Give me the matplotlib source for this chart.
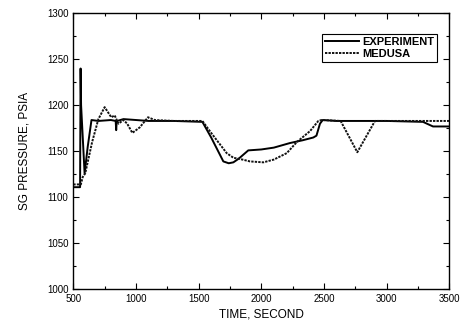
import numpy as np
import matplotlib.pyplot as plt
from matplotlib.ticker import MultipleLocator

plt.rcParams['font.family'] = ['Liberation Sans', 'DejaVu Sans']

# EXPERIMENT (solid)
exp_t = [500, 554, 556, 558, 562, 590, 615, 645, 700, 800, 838, 842, 846, 850,
         900, 1000, 1100, 1300, 1530, 1600, 1697, 1740, 1777, 1820, 1896, 2000,
         2100, 2229, 2330, 2415, 2440, 2468, 2490, 2600, 2800, 3000, 3290, 3370, 3500]
exp_p = [1111, 1111, 1180, 1240, 1200, 1126, 1155, 1184, 1183, 1184, 1183, 1173,
         1182, 1183, 1185, 1184, 1183, 1183, 1182, 1165, 1139, 1137, 1138, 1142,
         1151, 1152, 1154, 1159, 1162, 1165, 1167, 1180, 1184, 1183, 1183, 1183,
         1182, 1177, 1177]

# MEDUSA (dashed)
med_t = [500, 560, 575, 595, 650, 700, 750, 803, 830, 860, 880, 900, 930, 971,
         1030, 1096, 1150, 1300, 1530, 1600, 1724, 1777, 1850, 1910, 2016, 2100,
         2203, 2283, 2389, 2455, 2480, 2633, 2766, 2907, 3000, 3200, 3500]
med_p = [1114, 1114, 1122, 1126, 1160, 1185, 1198, 1187, 1189, 1180, 1182, 1184,
         1180, 1170, 1176, 1187, 1184, 1183, 1183, 1170, 1148, 1143, 1141, 1139,
         1138, 1141, 1148, 1160, 1172, 1183, 1184, 1183, 1149, 1183, 1183, 1183, 1183]

fig = plt.figure(figsize=(4.62, 3.27), dpi=100)
ax = fig.add_axes([0.1587, 0.1153, 0.8138, 0.844])

ax.plot(exp_t, exp_p, color='black', lw=1.4, label='EXPERIMENT')
ax.plot(med_t, med_p, color='#111111', lw=1.4, ls=(0, (1.2, 0.6)), label='MEDUSA')

ax.set_xlim(500, 3500)
ax.set_ylim(1000, 1300)
ax.xaxis.set_major_locator(MultipleLocator(500))
ax.xaxis.set_minor_locator(MultipleLocator(250))
ax.yaxis.set_major_locator(MultipleLocator(50))
ax.yaxis.set_minor_locator(MultipleLocator(25))
ax.tick_params(which='both', direction='in', top=True, right=True, labelsize=7, width=0.8)
ax.tick_params(which='major', length=4)
ax.tick_params(which='minor', length=2.5)
for s in ax.spines.values():
    s.set_linewidth(1.0)

ax.set_xlabel('TIME, SECOND', fontsize=8.5, labelpad=3)
ax.set_ylabel('SG PRESSURE, PSIA', fontsize=8.5, labelpad=12)

leg = ax.legend(loc='upper right', bbox_to_anchor=(0.983, 0.946),
                prop={'weight': 'bold', 'size': 8}, fancybox=False, framealpha=1,
                edgecolor='black', handlelength=3.0, handletextpad=0.3,
                borderpad=0.3, labelspacing=0.15)
leg.get_frame().set_linewidth(0.8)

fig.savefig('out.png', dpi=100)
